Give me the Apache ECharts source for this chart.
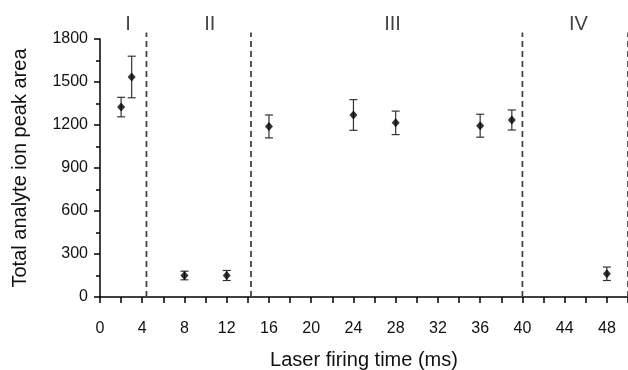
<!DOCTYPE html>
<html>
<head>
<meta charset="utf-8">
<script src="https://cdn.jsdelivr.net/npm/echarts@6/dist/echarts.min.js"></script>
<style>
  html, body { margin: 0; padding: 0; background: #fff; }
  #chart { width: 628px; height: 370px; }
</style>
</head>
<body>
<div id="chart"></div>
<script>
// laser firing time (ms) and measured peak area, with error (+/-)
var times = [2, 3, 8, 12, 16, 24, 28, 36, 39, 48];
var means = [1325, 1535, 150, 150, 1190, 1270, 1215, 1195, 1235, 162];
var errs = [68, 145, 30, 35, 80, 107, 82, 80, 70, 47];

// region boundaries (dashed) and region labels
var boundaries = [4.4, 14.3, 40, 50];
var regionNames = ['I', 'II', 'III', 'IV'];
var regionPos = [2.65, 10.4, 27.7, 45.3];
var yTicks = [0, 300, 600, 900, 1200, 1500, 1800];

var font = '"Liberation Sans", Arial, sans-serif';
var textColor = '#111';

var points = times.map(function (t, i) { return [t, means[i]]; });
var bars = times.map(function (t, i) { return [t, means[i] - errs[i], means[i] + errs[i]]; });
var lines = boundaries.map(function (b) { return [b, 0, 1845]; });
var labels = regionNames.map(function (n, i) { return { name: n, value: [regionPos[i], 1900] }; });

var chart = echarts.init(document.getElementById('chart'));
chart.setOption({
  animation: false,
  backgroundColor: '#fff',
  grid: { left: 100, right: 0, top: 39, bottom: 73, outerBoundsMode: 'none', containLabel: false },
  xAxis: {
    type: 'value', min: 0, max: 50, interval: 4,
    name: 'Laser firing time (ms)', nameLocation: 'middle', nameGap: 53,
    nameTextStyle: { fontFamily: font, fontSize: 20, color: textColor },
    axisLine: { lineStyle: { color: '#000', width: 1.5 } },
    axisTick: { length: 6, lineStyle: { color: '#000', width: 1.5 } },
    minorTick: { show: true, splitNumber: 2, length: 6, lineStyle: { color: '#000', width: 1.5 } },
    axisLabel: { margin: 24, fontFamily: font, fontSize: 16, color: textColor, showMaxLabel: false },
    splitLine: { show: false }
  },
  yAxis: {
    type: 'value', min: yTicks[0], max: yTicks[yTicks.length - 1], interval: 300,
    name: 'Total analyte ion peak area', nameLocation: 'middle', nameGap: 70,
    nameTextStyle: { fontFamily: font, fontSize: 20, color: textColor },
    axisLine: { show: true, lineStyle: { color: '#000', width: 1.5 } },
    axisTick: { show: true, length: 6, lineStyle: { color: '#000', width: 1.5 } },
    minorTick: { show: true, splitNumber: 2, length: 4, lineStyle: { color: '#000', width: 1.5 } },
    axisLabel: { margin: 12, fontFamily: font, fontSize: 16, color: textColor, formatter: function (v) { return String(v); } },
    splitLine: { show: false }
  },
  series: [
    {
      type: 'custom',
      clip: false,
      data: lines,
      renderItem: function (params, api) {
        var p0 = api.coord([api.value(0), api.value(1)]);
        var p1 = api.coord([api.value(0), api.value(2)]);
        return {
          type: 'line',
          shape: { x1: p0[0], y1: p0[1], x2: p1[0], y2: p1[1] },
          style: { stroke: '#444', lineWidth: 1.8, lineDash: [6, 4] }
        };
      },
      silent: true,
      z: 1
    },
    {
      type: 'custom',
      data: bars,
      renderItem: function (params, api) {
        var x = api.value(0);
        var lo = api.coord([x, api.value(1)]);
        var hi = api.coord([x, api.value(2)]);
        var w = 4;
        var st = { stroke: '#333', lineWidth: 1.2 };
        return {
          type: 'group',
          children: [
            { type: 'line', shape: { x1: lo[0], y1: lo[1], x2: hi[0], y2: hi[1] }, style: st },
            { type: 'line', shape: { x1: hi[0] - w, y1: hi[1], x2: hi[0] + w, y2: hi[1] }, style: st },
            { type: 'line', shape: { x1: lo[0] - w, y1: lo[1], x2: lo[0] + w, y2: lo[1] }, style: st }
          ]
        };
      },
      z: 2
    },
    {
      type: 'scatter',
      data: points,
      symbol: 'diamond',
      symbolSize: [8, 9],
      itemStyle: { color: '#000' },
      z: 3
    },
    {
      type: 'scatter',
      data: labels,
      symbolSize: 0,
      clip: false,
      silent: true,
      label: {
        show: true, position: 'inside', formatter: '{b}',
        fontFamily: font, fontSize: 20, color: textColor
      }
    }
  ]
});
</script>
</body>
</html>
